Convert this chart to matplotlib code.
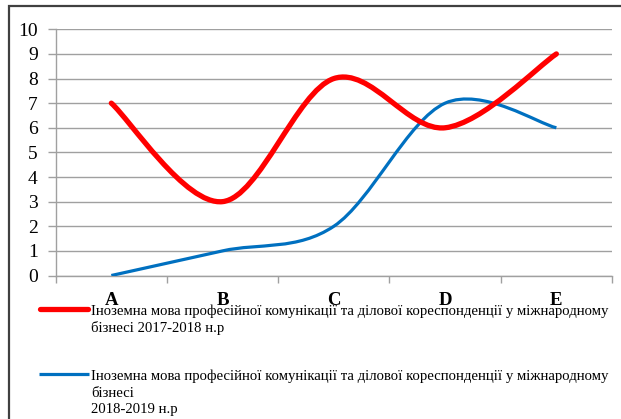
import matplotlib
matplotlib.use("Agg")
import matplotlib.pyplot as plt
from matplotlib.path import Path
from matplotlib.patches import PathPatch, Rectangle
from matplotlib.lines import Line2D

categories = ["A", "B", "C", "D", "E"]
series1 = [7, 3, 8, 6, 9]
series2 = [0, 1, 2, 7, 6]
label1_lines = ["Іноземна мова професійної комунікації та ділової кореспонденції у міжнародному",
                "бізнесі 2017-2018 н.р"]
label2_lines = ["Іноземна мова професійної комунікації та ділової кореспонденції у міжнародному",
                "бізнесі",
                "2018-2019 н.р"]
yticks = list(range(0, 11))

RED = "#FF0000"
BLUE = "#0070C0"
GRID = "#A0A0A0"
SERIF = ["Liberation Serif", "DejaVu Serif"]

W, H = 621, 419
fig = plt.figure(figsize=(W / 100, H / 100), dpi=100)


def fx(px):
    return px / W


def fy(py):
    return 1 - py / H


ax = fig.add_axes([fx(55.7), fy(275.5), fx(612) - fx(55.7), fy(29.3) - fy(275.5)])


def smooth_path(xs, ys):
    pts = list(zip(xs, ys))
    n = len(pts)
    verts = [pts[0]]
    codes = [Path.MOVETO]
    for i in range(n - 1):
        p0 = pts[max(i - 1, 0)]
        p1 = pts[i]
        p2 = pts[i + 1]
        p3 = pts[min(i + 2, n - 1)]
        c1 = (p1[0] + (p2[0] - p0[0]) / 6, p1[1] + (p2[1] - p0[1]) / 6)
        c2 = (p2[0] - (p3[0] - p1[0]) / 6, p2[1] - (p3[1] - p1[1]) / 6)
        verts += [c1, c2, p2]
        codes += [Path.CURVE4] * 3
    return Path(verts, codes)


xs = list(range(len(categories)))
ax.add_patch(PathPatch(smooth_path(xs, series2), fill=False, edgecolor=BLUE,
                       lw=2.3, capstyle="butt", joinstyle="round", zorder=3))
ax.add_patch(PathPatch(smooth_path(xs, series1), fill=False, edgecolor=RED,
                       lw=3.8, capstyle="round", joinstyle="round", zorder=4))

ax.set_xlim(-0.5, len(categories) - 0.5)
ax.set_ylim(0, 10)
ax.set_yticks(yticks)
ax.set_yticklabels([str(v) for v in yticks], fontfamily=SERIF, fontsize=14)
ax.set_xticks([i - 0.5 for i in range(len(categories) + 1)])
ax.set_xticklabels([])
ax.tick_params(axis="y", length=6, width=1, color=GRID, pad=7)
ax.tick_params(axis="x", length=5, width=1, color=GRID, direction="out")
for s in ["top", "right"]:
    ax.spines[s].set_visible(False)
for s in ["left", "bottom"]:
    ax.spines[s].set_color(GRID)
    ax.spines[s].set_linewidth(1)
ax.grid(axis="y", color=GRID, lw=1)
ax.set_axisbelow(True)
ax.patch.set_alpha(0)

# category labels (overlapping legend, as in reference)
for i, c in enumerate(categories):
    ax.text(i, -1.2, c, ha="center", va="baseline", fontfamily=SERIF,
            fontsize=13.5, fontweight="bold", transform=ax.transData, clip_on=False)

# legend
fig.add_artist(Line2D([fx(40), fx(88)], [fy(309), fy(309)], color=RED, lw=3.8,
                      solid_capstyle="round"))
fig.add_artist(Line2D([fx(39), fx(89)], [fy(374), fy(374)], color=BLUE, lw=2.3,
                      solid_capstyle="butt"))

# fit legend font size so that the long line spans ~ 91..610 px
renderer = fig.canvas.get_renderer()
probe = fig.text(0, 0, label1_lines[0], fontfamily=SERIF, fontsize=11)
wpx = probe.get_window_extent(renderer).width
probe.remove()
leg_fs = 11 * (610 - 91) / wpx

for j, t in enumerate(label1_lines):
    fig.text(fx(91), fy(315 + 17 * j), t, ha="left", va="baseline",
             fontfamily=SERIF, fontsize=leg_fs)
for j, t in enumerate(label2_lines):
    fig.text(fx(91), fy(380 + 16.5 * j), t, ha="left", va="baseline",
             fontfamily=SERIF, fontsize=leg_fs)

# outer frame
fig.add_artist(Rectangle((fx(9), fy(430)), fx(700), fy(6.5) - fy(430), fill=False,
                         edgecolor="#404040", lw=1.6, transform=fig.transFigure))

fig.savefig("out.png", dpi=100)
